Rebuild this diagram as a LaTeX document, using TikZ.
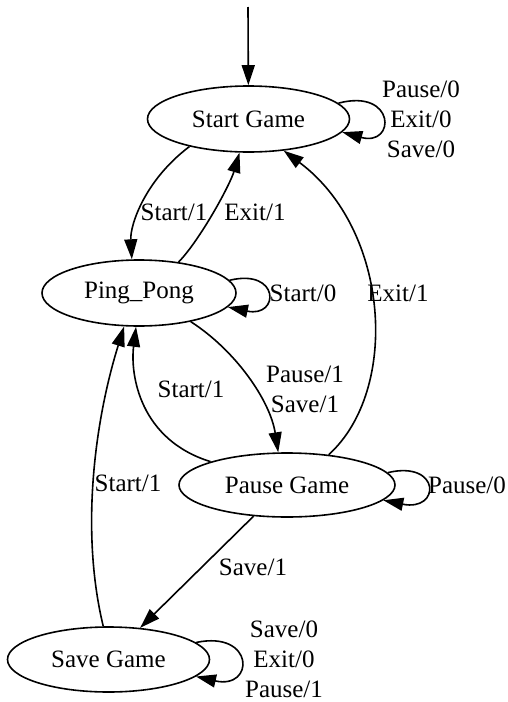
\documentclass[tikz,border=0pt]{standalone}
\usepackage{fontspec}
\setmainfont{Liberation Serif}
\usepackage{tikz}
\usetikzlibrary{arrows.meta,shapes.geometric}

\begin{document}
\begin{tikzpicture}[x=0.5pt, y=-0.5pt,
  state/.style={ellipse, draw, line width=0.8pt, inner sep=0pt,
    font=\fontsize{12.5}{15}\selectfont},
  edge/.style={line width=0.8pt, -{Triangle[length=10pt,width=6.5pt]}},
  lbl/.style={inner sep=0pt, align=center, font=\fontsize{12.5}{15}\selectfont}]
  \useasboundingbox (0,0) rectangle (508,702);
  % States
  \node[state, minimum width=101pt, minimum height=33pt] (start) at (248.5,119) {Start Game};
  \node[state, minimum width=97pt, minimum height=33pt] (ping) at (139,293) {Ping\_Pong};
  \node[state, minimum width=108pt, minimum height=32pt] (pause) at (287,485) {Pause Game};
  \node[state, minimum width=101pt, minimum height=32.5pt] (save) at (108.5,659.5) {Save Game};
  % Initial arrow
  \coordinate (init) at (248,7);
  \draw[edge] (init) -- (start);
  % Transitions
  \draw[edge] (start.205) .. controls (145,180) and (130,225) .. (ping.102);
  \draw[edge] (ping.38) .. controls (200,240) and (230,185) .. (start.255);
  \draw[edge] (pause.36) .. controls (400,390) and (390,230) .. (start.318);
  \draw[edge] (ping.331) .. controls (235,350) and (270,400) .. (pause.105);
  \draw[edge] (pause.163) .. controls (140,440) and (130,375) .. (ping.265);
  \draw[edge] (save.99) .. controls (80,530) and (95,420) .. (ping.246);
  \draw[edge] (pause.223) -- (save.45);
  % Self loops
  \draw[edge] (start.10) .. controls (396,88) and (396,147) .. (start.-8);
  \draw[edge] (ping.8) .. controls (280,268) and (280,318) .. (ping.-9);
  \draw[edge] (pause.7) .. controls (441,460) and (441,512) .. (pause.-9);
  \draw[edge] (save.11) .. controls (255,630) and (255,690) .. (save.-11);
  % Labels
  \node[lbl] (l-sp) at (174,212) {Start/1};
  \node[lbl] (l-ps) at (255,212) {Exit/1};
  \node[lbl] (l-ss) at (421,119) {Pause/0\\Exit/0\\Save/0};
  \node[lbl] (l-pp) at (303,293) {Start/0};
  \node[lbl] (l-as) at (398,293) {Exit/1};
  \node[lbl] (l-pa) at (305,389) {Pause/1\\Save/1};
  \node[lbl] (l-ap) at (191,389) {Start/1};
  \node[lbl] (l-aa) at (467,485) {Pause/0};
  \node[lbl] (l-vp) at (128,483) {Start/1};
  \node[lbl] (l-av) at (253,567) {Save/1};
  \node[lbl] (l-vv) at (284,659) {Save/0\\Exit/0\\Pause/1};
\end{tikzpicture}
\end{document}
